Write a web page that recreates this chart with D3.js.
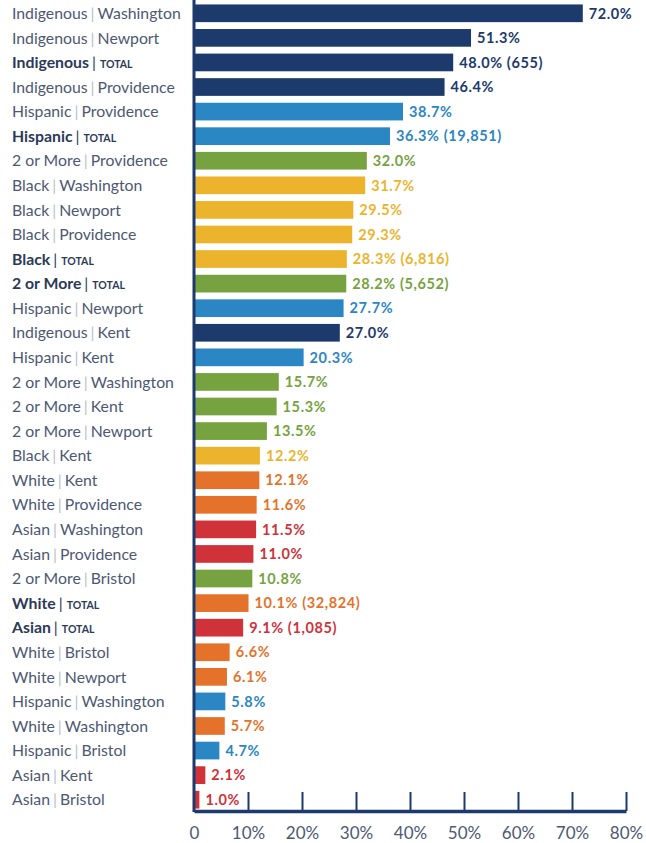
<!DOCTYPE html>
<html>
<head>
<meta charset="utf-8">
<script src="https://cdn.jsdelivr.net/npm/d3@7"></script>
<style>
  html, body { margin: 0; padding: 0; background: #ffffff; }
  svg { display: block; }
</style>
</head>
<body>
<svg id="chart" width="646" height="843"></svg>
<script>
// Group of each row (drives colour)
const groups = [
  "Indigenous", "Indigenous", "Indigenous", "Indigenous",
  "Hispanic", "Hispanic", "2 or More", "Black", "Black", "Black",
  "Black", "2 or More", "Hispanic", "Indigenous", "Hispanic",
  "2 or More", "2 or More", "2 or More", "Black", "White",
  "White", "Asian", "Asian", "2 or More", "White",
  "Asian", "White", "White", "Hispanic", "White",
  "Hispanic", "Asian", "Asian"
];
// Place of each row ("TOTAL" rows are statewide)
const places = [
  "Washington", "Newport", "TOTAL", "Providence",
  "Providence", "TOTAL", "Providence", "Washington", "Newport", "Providence",
  "TOTAL", "TOTAL", "Newport", "Kent", "Kent",
  "Washington", "Kent", "Newport", "Kent", "Kent",
  "Providence", "Washington", "Providence", "Bristol", "TOTAL",
  "TOTAL", "Bristol", "Newport", "Washington", "Washington",
  "Bristol", "Kent", "Bristol"
];
// Percentage per row
const values = [
  72.0, 51.3, 48.0, 46.4,
  38.7, 36.3, 32.0, 31.7, 29.5, 29.3,
  28.3, 28.2, 27.7, 27.0, 20.3,
  15.7, 15.3, 13.5, 12.2, 12.1,
  11.6, 11.5, 11.0, 10.8, 10.1,
  9.1, 6.6, 6.1, 5.8, 5.7,
  4.7, 2.1, 1.0
];
// Counts shown after the TOTAL rows
const counts = [
  null, null, "655", null,
  null, "19,851", null, null, null, null,
  "6,816", "5,652", null, null, null,
  null, null, null, null, null,
  null, null, null, null, "32,824",
  "1,085", null, null, null, null,
  null, null, null
];
const groupNames = ["Indigenous", "Hispanic", "2 or More", "Black", "White", "Asian"];
const groupColors = ["#1c3a6b", "#2b86c4", "#76a23f", "#ecb42c", "#e5722b", "#d0323a"];
const xTicks = [0, 10, 20, 30, 40, 50, 60, 70, 80];

const rows = values.map((v, i) => ({
  id: i, group: groups[i], place: places[i], value: v, count: counts[i]
}));

const svg = d3.select("#chart");
const color = d3.scaleOrdinal().domain(groupNames).range(groupColors);

const x = d3.scaleLinear().domain([0, 80]).range([194, 626]);
const y = d3.scaleBand()
  .domain(rows.map(d => d.id))
  .range([1, 812])
  .paddingInner(0.28)
  .paddingOuter(0.14);

const font = "Lato, 'Open Sans', sans-serif";
const labelColor = "#4d5873";

// Bars
svg.append("g").selectAll("rect")
  .data(rows)
  .join("rect")
  .attr("x", x(0))
  .attr("y", d => y(d.id))
  .attr("width", d => x(d.value) - x(0))
  .attr("height", y.bandwidth())
  .attr("fill", d => color(d.group));

// Value labels at bar ends
svg.append("g").selectAll("text")
  .data(rows)
  .join("text")
  .attr("x", d => x(d.value) + 6)
  .attr("y", d => y(d.id) + y.bandwidth() / 2)
  .attr("dy", "0.36em")
  .attr("font-family", font)
  .attr("font-weight", 700)
  .attr("font-size", 14.5)
  .attr("letter-spacing", 0.6)
  .attr("fill", d => color(d.group))
  .text(d => d.value.toFixed(1) + "%" + (d.count ? " (" + d.count + ")" : ""));

// Row labels: "Group | Place", with TOTAL rows emphasised
const lab = svg.append("g").selectAll("text")
  .data(rows)
  .join("text")
  .attr("x", 12)
  .attr("y", d => y(d.id) + y.bandwidth() / 2)
  .attr("dy", "0.36em")
  .attr("font-family", font)
  .attr("font-size", 15.8)
  .attr("fill", labelColor);

lab.each(function(d) {
  const t = d3.select(this);
  const total = d.place === "TOTAL";
  t.append("tspan")
    .attr("font-weight", total ? 700 : 400)
    .attr("fill", total ? "#2c3a58" : labelColor)
    .text(d.group);
  t.append("tspan")
    .attr("dx", 3)
    .attr("font-weight", 400)
    .attr("fill", total ? "#2c3a58" : "#b8bfcc")
    .text("|");
  if (total) {
    t.append("tspan")
      .attr("dx", 4)
      .attr("font-weight", 700)
      .attr("font-size", 10.5)
      .attr("fill", "#2c3a58")
      .text("TOTAL");
  } else {
    t.append("tspan")
      .attr("dx", 3)
      .text(d.place);
  }
});

// Left axis line
svg.append("line")
  .attr("x1", x(0)).attr("x2", x(0))
  .attr("y1", 0).attr("y2", 812)
  .attr("stroke", "#1c3a6b")
  .attr("stroke-width", 3);

// Bottom axis with upward ticks
const axis = d3.axisBottom(x)
  .tickValues(xTicks)
  .tickSize(0)
  .tickFormat(d => d === 0 ? "0" : d + "%");

const gx = svg.append("g")
  .attr("transform", "translate(0,811)")
  .call(axis);
gx.select(".domain")
  .attr("stroke", "#1c3a6b")
  .attr("stroke-width", 3.5);
gx.selectAll(".tick line")
  .attr("y1", 0).attr("y2", d => d === 0 ? 0 : -19)
  .attr("stroke", "#1c3a6b")
  .attr("stroke-width", 2);
gx.selectAll(".tick text")
  .attr("y", 28)
  .attr("dy", 0)
  .attr("font-family", font)
  .attr("font-size", 17)
  .attr("fill", "#4d5873");
</script>
</body>
</html>
